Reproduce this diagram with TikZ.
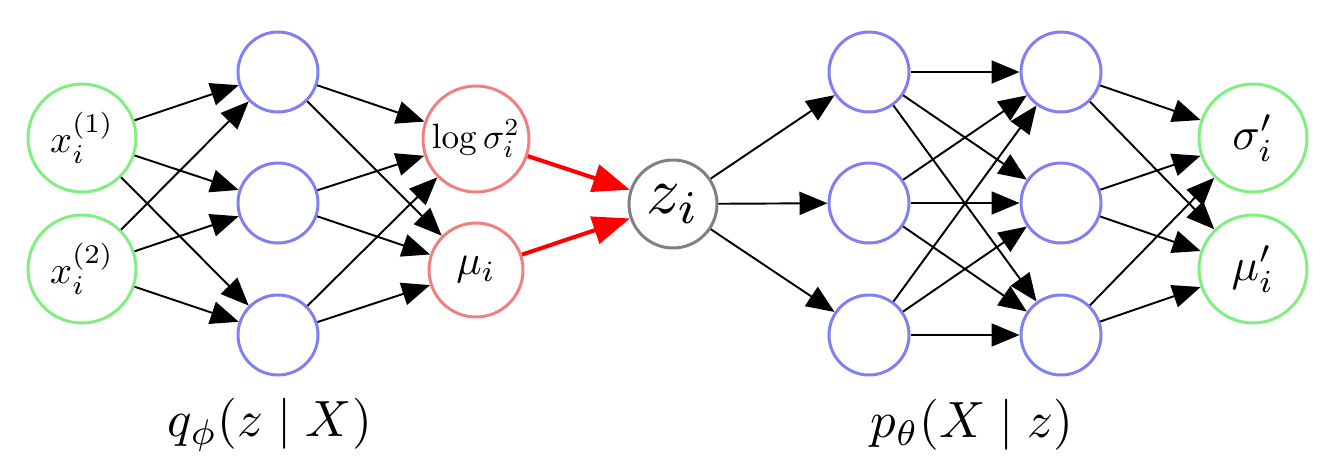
\documentclass[tikz,border=0pt]{standalone}
\usepackage{graphicx}
\usetikzlibrary{arrows.meta}
\definecolor{ngreen}{RGB}{128,238,128}
\definecolor{nblue}{RGB}{128,128,240}
\definecolor{nred}{RGB}{240,128,128}
\definecolor{ngray}{RGB}{128,128,128}
\newcommand{\myfs}[2]{\scalebox{#1}{#2}}
\begin{document}
\begin{tikzpicture}[x=0.02cm,y=-0.02cm,
  neuron/.style={circle,draw,line width=1.7pt,fill=white,inner sep=0pt},
  innode/.style={neuron,draw=ngreen,minimum size=2.16cm},
  hidnode/.style={neuron,draw=nblue,minimum size=1.6cm},
  parnode/.style={neuron,draw=nred},
  latnode/.style={neuron,draw=ngray,minimum size=1.76cm},
  conn/.style={line width=1.1pt,-{Triangle[length=0.56cm,width=0.46cm]}},
  redconn/.style={line width=2.3pt,red,-{Triangle[length=0.74cm,width=0.56cm]}}]
\useasboundingbox[fill=white] (0,0) rectangle (1337,464);
% encoder
\node[innode] (x1) at (82,138) {\myfs{2.2}{$x_i^{(1)}$}};
\node[innode] (x2) at (82,269) {\myfs{2.2}{$x_i^{(2)}$}};
\node[hidnode] (h1) at (278,72) {};
\node[hidnode] (h2) at (278,203) {};
\node[hidnode] (h3) at (278,335) {};
\node[parnode,minimum size=2.12cm] (ls) at (476,139) {\myfs{2.0}{$\log\sigma_i^2$}};
\node[parnode,minimum size=1.88cm] (mu) at (476,270) {\myfs{2.4}{$\mu_i$}};
\node[latnode] (z) at (673,204) {\myfs{3.8}{$z_i$}};
% decoder
\node[hidnode] (d1) at (869,72) {};
\node[hidnode] (d2) at (869,203) {};
\node[hidnode] (d3) at (869,335) {};
\node[hidnode] (e1) at (1061,72) {};
\node[hidnode] (e2) at (1061,203) {};
\node[hidnode] (e3) at (1061,335) {};
\node[innode] (so) at (1253,138) {\myfs{2.6}{$\sigma_i'$}};
\node[innode] (mo) at (1253,269) {\myfs{2.6}{$\mu_i'$}};
% labels
\node (ql) at (270,425) {\myfs{2.9}{$q_\phi(z\mid X)$}};
\node (pl) at (972,425) {\myfs{2.9}{$p_\theta(X\mid z)$}};
% connectors
\foreach \a in {x1,x2} \foreach \b in {h1,h2,h3} \draw[conn] (\a) -- (\b);
\foreach \a in {h1,h2,h3} \foreach \b in {ls,mu} \draw[conn] (\a) -- (\b);
\draw[redconn] (ls) -- (z);
\draw[redconn] (mu) -- (z);
\foreach \b in {d1,d2,d3} \draw[conn] (z) -- (\b);
\foreach \a in {d1,d2,d3} \foreach \b in {e1,e2,e3} \draw[conn] (\a) -- (\b);
\foreach \a in {e1,e2,e3} \foreach \b in {so,mo} \draw[conn] (\a) -- (\b);
\end{tikzpicture}
\end{document}
